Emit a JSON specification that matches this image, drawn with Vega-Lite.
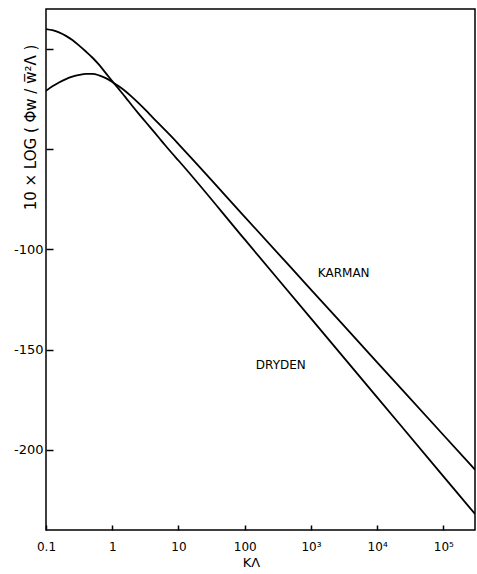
{
  "$schema": "https://vega.github.io/schema/vega-lite/v6.json",
  "width": 429,
  "height": 521,
  "autosize": {"type": "none"},
  "padding": {"left": 46, "top": 9, "right": 2, "bottom": 44},
  "background": "white",
  "config": {
    "view": {"stroke": "black", "strokeWidth": 1.5},
    "font": "DejaVu Sans",
    "axis": {"grid": false, "domain": false, "labelColor": "black", "tickColor": "black", "titleColor": "black", "labelFont": "DejaVu Sans", "titleFont": "DejaVu Sans", "titleFontWeight": "normal"}
  },
  "datasets": {
    "curves": [
      {"k": 0.1, "v": 10, "model": "Dryden"},
      {"k": 0.125, "v": 9.4, "model": "Dryden"},
      {"k": 0.157, "v": 8.3, "model": "Dryden"},
      {"k": 0.2, "v": 6.6, "model": "Dryden"},
      {"k": 0.25, "v": 4.5, "model": "Dryden"},
      {"k": 0.32, "v": 1.6, "model": "Dryden"},
      {"k": 0.4, "v": -1.2, "model": "Dryden"},
      {"k": 0.5, "v": -4.2, "model": "Dryden"},
      {"k": 0.631, "v": -7.8, "model": "Dryden"},
      {"k": 0.8, "v": -12, "model": "Dryden"},
      {"k": 1.0, "v": -16, "model": "Dryden"},
      {"k": 1.26, "v": -20, "model": "Dryden"},
      {"k": 1.6, "v": -24.2, "model": "Dryden"},
      {"k": 2.0, "v": -28.3, "model": "Dryden"},
      {"k": 2.5, "v": -32.2, "model": "Dryden"},
      {"k": 3.2, "v": -36.4, "model": "Dryden"},
      {"k": 4.0, "v": -40.2, "model": "Dryden"},
      {"k": 5.0, "v": -44, "model": "Dryden"},
      {"k": 6.3, "v": -48, "model": "Dryden"},
      {"k": 8.0, "v": -52, "model": "Dryden"},
      {"k": 10, "v": -55.6, "model": "Dryden"},
      {"k": 100, "v": -95, "model": "Dryden"},
      {"k": 1000, "v": -134.4, "model": "Dryden"},
      {"k": 10000, "v": -173.8, "model": "Dryden"},
      {"k": 100000, "v": -213.2, "model": "Dryden"},
      {"k": 300000, "v": -232, "model": "Dryden"},
      {"k": 0.1, "v": -20.8, "model": "Karman"},
      {"k": 0.125, "v": -18.6, "model": "Karman"},
      {"k": 0.157, "v": -16.7, "model": "Karman"},
      {"k": 0.2, "v": -15, "model": "Karman"},
      {"k": 0.25, "v": -13.8, "model": "Karman"},
      {"k": 0.32, "v": -12.9, "model": "Karman"},
      {"k": 0.4, "v": -12.4, "model": "Karman"},
      {"k": 0.5, "v": -12.4, "model": "Karman"},
      {"k": 0.631, "v": -13.1, "model": "Karman"},
      {"k": 0.8, "v": -14.5, "model": "Karman"},
      {"k": 1.0, "v": -16.4, "model": "Karman"},
      {"k": 1.26, "v": -18.6, "model": "Karman"},
      {"k": 1.6, "v": -21.2, "model": "Karman"},
      {"k": 2.0, "v": -24, "model": "Karman"},
      {"k": 2.5, "v": -27, "model": "Karman"},
      {"k": 3.2, "v": -30.5, "model": "Karman"},
      {"k": 4.0, "v": -33.8, "model": "Karman"},
      {"k": 5.0, "v": -37.1, "model": "Karman"},
      {"k": 6.3, "v": -40.5, "model": "Karman"},
      {"k": 8.0, "v": -44, "model": "Karman"},
      {"k": 10, "v": -47.4, "model": "Karman"},
      {"k": 15.2, "v": -53.9, "model": "Karman"},
      {"k": 100, "v": -83.7, "model": "Karman"},
      {"k": 1000, "v": -120, "model": "Karman"},
      {"k": 10000, "v": -156.3, "model": "Karman"},
      {"k": 100000, "v": -192.6, "model": "Karman"},
      {"k": 300000, "v": -209.9, "model": "Karman"}
    ],
    "labels": [
      {"k": 3126, "v": -111.5, "text": "KARMAN"},
      {"k": 351, "v": -157.5, "text": "DRYDEN"}
    ]
  },
  "layer": [
    {
      "data": {"name": "curves"},
      "mark": {"type": "line", "color": "black", "strokeWidth": 1.8, "interpolate": "monotone", "clip": true},
      "encoding": {
        "x": {
          "field": "k", "type": "quantitative",
          "scale": {"type": "log", "domain": [0.1, 300000], "nice": false},
          "axis": {
            "title": "KΛ", "titleFontSize": 13, "titleX": 205, "titleY": 32, "titleBaseline": "middle",
            "values": [0.1, 1, 10, 100, 1000, 10000, 100000],
            "labelExpr": "datum.value < 0.5 ? '0.1' : datum.value < 5 ? '1' : datum.value < 50 ? '10' : datum.value < 500 ? '100' : datum.value < 5000 ? '10³' : datum.value < 50000 ? '10⁴' : '10⁵'",
            "labelFontSize": 12, "labelPadding": 16, "tickSize": -5, "tickWidth": 1.5, "labelFlush": false
          }
        },
        "y": {
          "field": "v", "type": "quantitative",
          "scale": {"domain": [-240, 20], "nice": false, "zero": false},
          "axis": {
            "title": "10 × LOG ( Φw / w̅²Λ )", "titleFontSize": 15, "titleAngle": 270,
            "titleX": -8, "titleY": 118, "titleAlign": "center", "titleBaseline": "bottom",
            "values": [0, -50, -100, -150, -200],
            "labelExpr": "datum.value <= -100 ? '-' + abs(datum.value) : ''",
            "labelFontSize": 13, "labelPadding": 10, "tickSize": -7, "tickWidth": 1.5
          }
        },
        "detail": {"field": "model"}
      }
    },
    {
      "data": {"name": "labels"},
      "mark": {"type": "text", "color": "black", "fontSize": 12, "font": "DejaVu Sans", "align": "center", "baseline": "middle"},
      "encoding": {
        "x": {"field": "k", "type": "quantitative"},
        "y": {"field": "v", "type": "quantitative"},
        "text": {"field": "text"}
      }
    }
  ]
}
